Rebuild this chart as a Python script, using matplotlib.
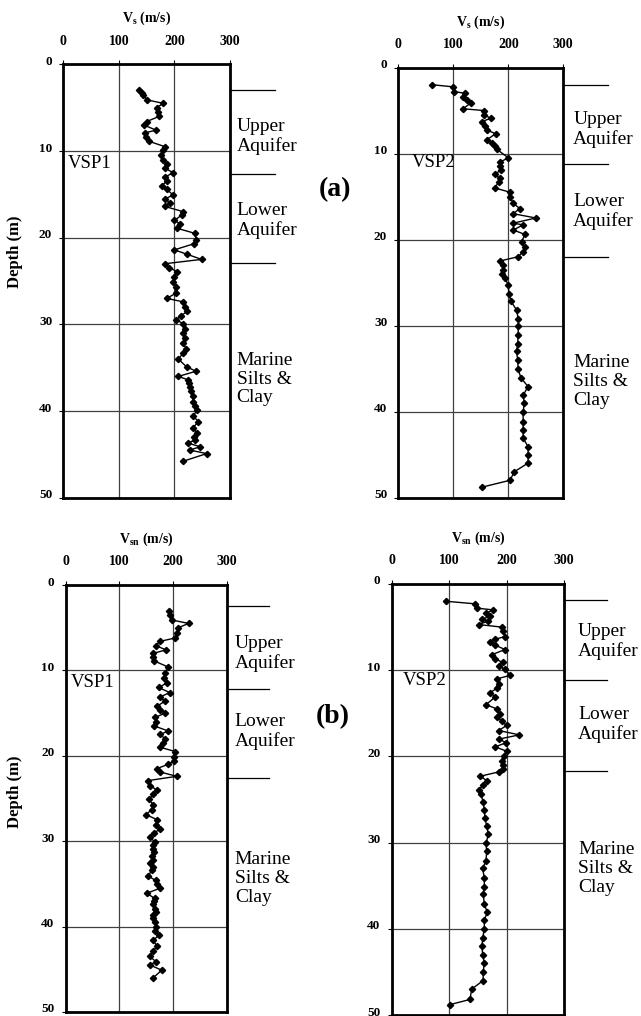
import matplotlib
matplotlib.use("Agg")
import matplotlib.pyplot as plt
import matplotlib.transforms as mtransforms

plt.rcParams['font.family'] = ['Liberation Serif', 'DejaVu Serif']
plt.rcParams['mathtext.fontset'] = 'custom'
plt.rcParams['mathtext.rm'] = 'Liberation Serif'
plt.rcParams['mathtext.bf'] = 'Liberation Serif:bold'

# ---- data: depth (m) and velocity (m/s) ----
vsp1_vs_depth = [3.0, 3.3, 3.5, 4.1, 4.5, 5.0, 5.5, 6.0, 6.6, 7.0, 7.6, 7.9, 8.4, 8.9, 9.5,
                 9.9, 10.5, 11.0, 11.5, 12.0, 12.5, 13.0, 13.5, 14.0, 14.4, 15.1, 15.5, 16.0,
                 16.4, 17.0, 17.4, 18.0, 18.4, 18.9, 19.5, 20.3, 20.7, 21.4, 21.9, 22.5, 23.0,
                 23.5, 23.9, 24.5, 25.1, 25.7, 26.4, 27.0, 27.4, 28.0, 28.5, 29.0, 29.5, 29.9,
                 30.5, 31.0, 31.6, 32.2, 32.8, 33.3, 34.0, 34.9, 35.4, 36.0, 36.4, 36.8, 37.2,
                 37.7, 38.3, 38.9, 39.4, 39.9, 40.6, 41.2, 41.9, 42.5, 43.0, 43.3, 43.7, 44.1,
                 44.5, 44.9, 45.8]
vsp1_vs = [137, 141, 144, 150, 180, 168, 170, 173, 150, 145, 167, 147, 149, 155, 183,
           180, 175, 180, 187, 183, 198, 183, 186, 177, 186, 198, 183, 192,
           183, 216, 213, 200, 210, 204, 237, 239, 235, 200, 222, 249, 183,
           191, 205, 200, 198, 203, 203, 186, 216, 219, 223, 212, 203, 216,
           219, 215, 219, 216, 221, 216, 207, 222, 239, 207, 225, 227, 228,
           230, 233, 234, 237, 240, 234, 243, 234, 240, 236, 237, 225, 246,
           228, 258, 215]

vsp2_vs_depth = [2.0, 2.25, 2.8, 3.0, 3.4, 3.8, 4.1, 4.8, 5.0, 5.5, 5.9, 6.3, 6.8, 7.3, 7.7,
                 8.4, 8.8, 9.1, 9.5, 10.5, 11.0, 11.4, 11.9, 12.4, 12.9, 13.3, 14.0, 14.5,
                 15.0, 15.8, 16.4, 17.0, 17.5, 18.1, 18.3, 18.9, 19.4, 20.3, 20.9, 21.4,
                 22.0, 22.5, 23.0, 23.6, 24.0, 24.5, 25.3, 26.3, 27.2, 28.2, 29.2, 30.1,
                 31.1, 32.1, 33.0, 34.0, 35.1, 36.1, 37.1, 38.1, 39.0, 40.1, 41.2, 42.1,
                 43.1, 44.1, 45.0, 46.0, 47.0, 48.0, 48.8]
vsp2_vs = [61, 100, 102, 121, 118, 124, 132, 118, 155, 156, 168, 152, 158, 162, 177,
           161, 170, 176, 179, 200, 185, 185, 187, 176, 185, 183, 175, 203,
           203, 209, 221, 209, 250, 209, 227, 209, 230, 224, 230, 227,
           218, 185, 191, 191, 188, 194, 200, 201, 205, 215, 218, 218,
           218, 217, 215, 217, 218, 223, 236, 227, 229, 227, 227, 227,
           227, 236, 236, 236, 211, 203, 152]

vsp1_vsn_depth = [3.0, 3.5, 4.1, 4.5, 5.0, 5.6, 6.2, 6.6, 7.1, 7.6, 8.0, 8.4, 8.9, 9.6, 10.3,
                  10.9, 11.5, 12.0, 12.6, 13.1, 13.6, 14.2, 14.6, 15.0, 15.5, 16.0, 16.5,
                  17.1, 17.5, 18.0, 18.5, 19.0, 19.5, 20.1, 20.6, 21.0, 21.5, 21.9, 22.4,
                  22.9, 23.5, 24.0, 24.5, 25.1, 25.8, 26.3, 26.9, 27.5, 28.1, 28.6, 29.0,
                  29.5, 30.1, 30.5, 30.9, 31.3, 31.7, 32.2, 32.6, 33.0, 33.4, 34.1, 34.6,
                  35.0, 35.5, 36.1, 36.7, 37.0, 37.4, 37.9, 38.3, 38.6, 39.0, 39.5, 40.0,
                  40.5, 41.0, 41.6, 42.3, 42.9, 43.5, 44.1, 44.5, 45.1, 46.0]
vsp1_vsn = [193, 194, 198, 229, 210, 207, 204, 176, 168, 187, 163, 163, 165, 191, 185,
            184, 188, 173, 194, 176, 185, 170, 175, 185, 167, 168, 165,
            191, 176, 185, 182, 176, 204, 202, 202, 191, 170, 176, 207,
            154, 157, 170, 163, 156, 163, 160, 150, 171, 168, 176, 165,
            157, 166, 163, 162, 165, 160, 162, 157, 162, 160, 154, 168,
            170, 176, 151, 166, 165, 163, 167, 168, 162, 163, 167, 168,
            166, 174, 163, 170, 163, 157, 168, 157, 179, 163]

vsp2_vsn_depth = [2.0, 2.3, 2.8, 3.0, 3.4, 3.75, 4.1, 4.3, 4.7, 5.0, 5.5, 6.1, 6.4, 6.7, 7.1,
                  7.6, 8.2, 8.7, 9.1, 9.5, 9.9, 10.6, 11.0, 11.6, 12.1, 12.6, 13.1, 14.0,
                  14.5, 15.1, 15.4, 15.9, 16.4, 17.0, 17.5, 18.0, 18.4, 18.9, 19.4, 19.9,
                  20.5, 21.0, 21.5, 21.8, 22.3, 22.8, 23.3, 23.9, 24.4, 25.3, 26.2, 27.1,
                  28.1, 29.0, 30.1, 31.0, 32.1, 33.0, 34.1, 35.1, 36.0, 37.1, 38.1, 39.0,
                  40.0, 41.1, 42.0, 43.0, 44.0, 45.0, 46.0, 47.0, 48.2, 48.8]
vsp2_vsn = [94, 145, 148, 176, 164, 170, 157, 168, 151, 191, 193, 197, 180, 171, 180,
            197, 174, 180, 193, 186, 197, 206, 183, 186, 183, 171, 180, 164,
            183, 188, 183, 191, 200, 186, 222, 186, 199, 180, 200, 195,
            191, 193, 194, 186, 154, 165, 159, 151, 155, 159, 161, 162,
            165, 168, 164, 165, 164, 158, 161, 161, 159, 161, 166, 161,
            161, 158, 157, 158, 161, 159, 159, 139, 136, 101]

# layer boundaries (m) and label centres (m) per panel
bounds = [[3.0, 12.6, 22.9], [2.0, 11.2, 22.0], [2.5, 12.2, 22.6], [1.8, 11.1, 21.7]]
label_depths = [[8.3, 18.0, 36.3], [7.2, 16.7, 36.5], [8.0, 17.1, 34.4], [6.7, 16.3, 33.0]]
layer_names = ['Upper\nAquifer', 'Lower\nAquifer', 'Marine\nSilts &\nClay']
wells = ['VSP1', 'VSP2', 'VSP1', 'VSP2']
well_pos = [(8, 11.4), (24, 11.1), (9, 11.4), (20, 11.2)]
xlabels = [r'$\mathbf{V_s}$ (m/s)', r'$\mathbf{V_s}$ (m/s)',
           r'$\mathbf{V_{sn}}$ (m/s)', r'$\mathbf{V_{sn}}$ (m/s)']
series = [(vsp1_vs, vsp1_vs_depth), (vsp2_vs, vsp2_vs_depth),
          (vsp1_vsn, vsp1_vsn_depth), (vsp2_vsn, vsp2_vsn_depth)]

W, H = 641, 1016
fig = plt.figure(figsize=(W / 100, H / 100), dpi=100)

# axes rectangles in pixels: left, top, right, bottom
rects_px = [(63.3, 64.3, 230.0, 497.8), (398.3, 67.5, 563.3, 497.5),
            (65.7, 585.0, 226.7, 1012.0), (391.7, 584.0, 564.3, 1015.0)]
text_x = [1.04, 1.06, 1.05, 1.08]
line_end = [1.27, 1.27, 1.26, 1.25]

for i in range(4):
    l, t, r, b = rects_px[i]
    ax = fig.add_axes([l / W, (H - b) / H, (r - l) / W, (b - t) / H])
    v, d = series[i]
    ax.plot(v, d, color='black', lw=1.0, marker='D', ms=3.2, zorder=3)
    ax.set_xlim(0, 300)
    ax.set_ylim(50, 0)
    ax.set_xticks([0, 100, 200, 300])
    ax.set_yticks([0, 10, 20, 30, 40, 50])
    ax.xaxis.tick_top()
    ax.xaxis.set_label_position('top')
    ax.tick_params(direction='out', length=3, width=0.8, labelsize=10, pad=9, axis='x')
    ax.tick_params(direction='out', length=3, width=0.8, labelsize=9.5, pad=5, axis='y')
    for lab in ax.get_xticklabels() + ax.get_yticklabels():
        lab.set_fontweight('bold')
    offset = mtransforms.ScaledTranslation(0, 4 / 100, fig.dpi_scale_trans)
    for lab in ax.get_yticklabels():
        lab.set_transform(lab.get_transform() + offset)
    ax.set_xlabel(xlabels[i], fontsize=10, fontweight='bold', labelpad=9)
    ax.grid(True, color='0.25', lw=0.9)
    ax.set_axisbelow(True)
    for s in ax.spines.values():
        s.set_linewidth(2.0)

    trans = mtransforms.blended_transform_factory(ax.transAxes, ax.transData)
    for yb in bounds[i]:
        ax.plot([1.0, line_end[i]], [yb, yb], color='black', lw=0.9,
                transform=trans, clip_on=False)
    for name, yd in zip(layer_names, label_depths[i]):
        ax.text(text_x[i], yd, name, transform=trans, fontsize=14,
                ha='left', va='center', linespacing=1.15)
    ax.text(well_pos[i][0], well_pos[i][1], wells[i], fontsize=13.5,
            ha='left', va='center')

fig.text(335 / W, 1 - 190 / H, '(a)', fontsize=20, fontweight='bold', ha='center', va='center')
fig.text(333 / W, 1 - 717 / H, '(b)', fontsize=20, fontweight='bold', ha='center', va='center')
fig.text(15 / W, 1 - 252 / H, 'Depth (m)', fontsize=12, fontweight='bold',
         rotation=90, ha='center', va='center')
fig.text(15 / W, 1 - 792 / H, 'Depth (m)', fontsize=12, fontweight='bold',
         rotation=90, ha='center', va='center')

fig.savefig('out.png', dpi=100)
